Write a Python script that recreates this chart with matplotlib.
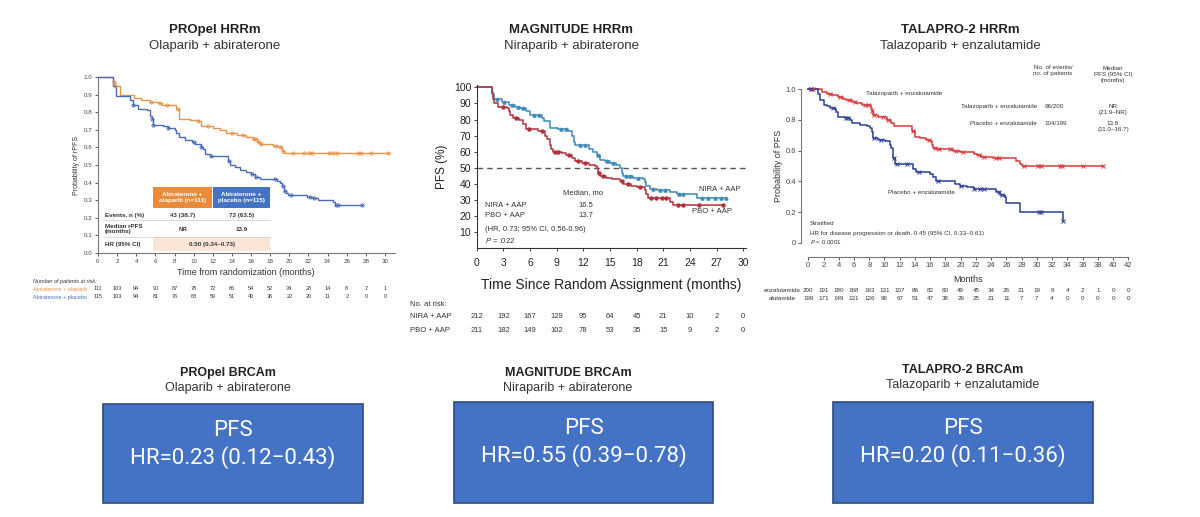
import numpy as np
import matplotlib
matplotlib.use('Agg')
import matplotlib.pyplot as plt
from matplotlib import transforms
from matplotlib.patches import Rectangle

plt.rcParams['font.family'] = ['Liberation Sans', 'DejaVu Sans']
plt.rcParams['mathtext.fontset'] = 'custom'
plt.rcParams['mathtext.it'] = 'Liberation Sans:italic'
plt.rcParams['mathtext.rm'] = 'Liberation Sans'

# ---------------- DATA ----------------
# PROpel HRRm (survival probability)
propel_ola_t = [0, 1.6, 1.75, 2.3, 3.8, 4.5, 5.4, 6.3, 6.7, 8.2, 8.5, 9.6, 10.5, 10.8, 12.0, 12.7,
                13.4, 14.5, 15.5, 16.2, 16.6, 16.9, 18.3, 19.0, 19.2, 19.4, 30.4]
propel_ola_s = [1.0, 0.97, 0.95, 0.90, 0.88, 0.87, 0.86, 0.85, 0.84, 0.82, 0.76, 0.755, 0.75, 0.72, 0.71, 0.70,
                0.68, 0.67, 0.66, 0.65, 0.63, 0.62, 0.61, 0.60, 0.58, 0.57, 0.57]
propel_ola_cens = [1.7, 1.8, 5.5, 6.5, 7.2, 8.4, 10.5, 11.5, 14.0, 15.2, 16.3, 16.5, 16.8, 17.0, 18.6,
                   19.0, 19.3, 20.4, 21.5, 22.1, 22.4, 24.1, 24.6, 25.0, 27.2, 27.5, 28.5, 30.3]
propel_pbo_t = [0, 1.6, 1.85, 3.3, 3.7, 4.2, 5.1, 5.4, 5.6, 5.75, 6.8, 7.3, 8.0, 8.2, 8.5, 9.1, 9.8, 10.1,
                10.8, 11.0, 11.2, 11.7, 13.6, 13.8, 14.3, 14.8, 15.5, 16.0, 16.4, 16.9, 18.7, 19.0, 19.2,
                19.4, 19.6, 19.9, 21.8, 22.5, 23.0, 24.6, 24.8, 27.6]
propel_pbo_s = [1.0, 0.95, 0.89, 0.87, 0.84, 0.82, 0.81, 0.78, 0.76, 0.73, 0.72, 0.71, 0.70, 0.68, 0.66, 0.64,
                0.63, 0.62, 0.60, 0.59, 0.56, 0.55, 0.52, 0.50, 0.49, 0.47, 0.46, 0.45, 0.43, 0.42, 0.41,
                0.40, 0.38, 0.35, 0.34, 0.33, 0.32, 0.31, 0.30, 0.29, 0.27, 0.27]
propel_pbo_cens = [3.7, 5.6, 5.8, 7.3, 10.0, 10.8, 11.8, 13.7, 16.1, 16.5, 18.5, 19.3, 19.5, 20.2, 22.2,
                   22.6, 24.9, 25.1, 27.6]
propel_risk_times = [0, 2, 4, 6, 8, 10, 12, 14, 16, 18, 20, 22, 24, 26, 28, 30]
propel_risk_ola = [111, 103, 94, 90, 87, 78, 72, 66, 54, 52, 34, 28, 14, 8, 2, 1]
propel_risk_pbo = [115, 103, 94, 81, 76, 68, 59, 51, 40, 36, 22, 20, 11, 2, 0, 0]
propel_arms = ['Abiraterone + olaparib', 'Abiraterone + placebo']

# MAGNITUDE HRRm (PFS %)
mag_nira_t = [0, 1.7, 1.75, 1.9, 2.8, 3.6, 4.3, 4.9, 5.6, 6.0, 7.3, 7.6, 8.25, 9.2, 10.3, 10.7, 10.9, 11.1,
              12.6, 13.1, 13.5, 13.9, 14.4, 15.0, 15.7, 16.1, 16.3, 16.5, 17.6, 18.75, 18.9, 19.1, 19.5,
              20.25, 21.75, 22.5, 24.75, 28.1]
mag_nira_s = [100, 98, 96, 93, 91, 89, 88, 87, 85, 83, 81, 79, 75, 74, 73, 70, 66, 64,
              62, 60, 58, 55, 54, 53, 52, 50, 47, 45, 44, 43, 41, 39, 37,
              36, 35, 34, 31, 31]
mag_nira_cens = [2.3, 3.1, 4.0, 4.6, 5.2, 6.4, 7.0, 9.5, 10.0, 11.6, 12.2, 13.6, 14.7, 15.3, 16.8, 17.2,
                 18.2, 19.8, 20.6, 21.2, 22.8, 23.2, 25.3, 26.0, 26.8, 27.5, 28.1]
mag_pbo_t = [0, 1.7, 1.8, 1.9, 2.4, 3.4, 3.6, 3.8, 4.1, 4.8, 5.25, 5.55, 6.9, 7.7, 7.9, 8.25, 8.4, 8.6,
             9.6, 10.1, 10.7, 11.1, 11.8, 12.6, 13.3, 13.5, 13.7, 13.9, 14.6, 15.2, 16.1, 16.5, 17.4,
             18.0, 18.9, 19.1, 19.3, 21.75, 22.1, 27.75]
mag_pbo_s = [100, 97, 93, 90, 88, 87, 85, 83, 81, 80, 77, 74, 73, 70, 68, 64, 62, 60,
             59, 58, 56, 54, 53, 52, 51, 50, 47, 45, 44, 43, 42, 40, 39,
             38, 36, 34, 31, 29, 27, 27]
mag_pbo_cens = [3.0, 4.4, 5.9, 7.3, 8.8, 9.2, 10.4, 11.4, 12.2, 13.8, 14.2, 16.3, 17.0, 18.4, 19.6,
                20.2, 20.8, 21.3, 22.6, 23.2, 25.0, 27.75]
mag_risk_times = [0, 3, 6, 9, 12, 15, 18, 21, 24, 27, 30]
mag_risk_nira = [212, 192, 167, 129, 95, 64, 45, 21, 10, 2, 0]
mag_risk_pbo = [211, 182, 149, 102, 78, 53, 35, 15, 9, 2, 0]
mag_arms = ['NIRA + AAP', 'PBO + AAP']

# TALAPRO-2 HRRm (survival probability)
tal_tal_t = [0, 1.75, 2.4, 3.1, 3.9, 4.6, 5.0, 5.7, 6.3, 7.0, 8.2, 8.3, 8.5, 9.2, 10.3, 10.9, 11.2, 13.6,
             14.0, 14.7, 15.5, 16.0, 16.2, 16.4, 16.8, 19.0, 19.9, 21.7, 22.1, 22.7, 24.3, 27.3, 27.8,
             28.0, 38.7]
tal_tal_s = [1.0, 0.98, 0.97, 0.96, 0.95, 0.94, 0.93, 0.92, 0.91, 0.90, 0.88, 0.86, 0.83, 0.82, 0.80, 0.78,
             0.76, 0.73, 0.69, 0.68, 0.67, 0.66, 0.64, 0.62, 0.61, 0.60, 0.59, 0.58, 0.57, 0.56, 0.55,
             0.53, 0.51, 0.50, 0.50]
tal_tal_cens = [0.3, 0.6, 2.8, 4.2, 5.4, 6.1, 7.4, 7.8, 8.4, 8.6, 9.8, 10.5, 13.8, 15.8, 16.6, 17.2,
                18.6, 19.4, 20.3, 22.4, 23.0, 24.6, 25.0, 28.3, 30.2, 30.6, 33.0, 33.3, 36.0, 38.7]
tal_pbo_t = [0, 1.3, 1.6, 2.0, 2.4, 2.8, 3.5, 3.7, 3.9, 4.8, 5.5, 5.7, 6.8, 7.7, 8.1, 8.3, 8.5, 9.2,
             10.1, 10.7, 10.9, 11.1, 11.4, 13.8, 14.2, 16.0, 16.4, 16.8, 19.2, 19.9, 20.8, 21.7, 24.7,
             25.2, 25.8, 26.0, 27.8, 33.2, 33.4]
tal_pbo_s = [1.0, 0.97, 0.93, 0.90, 0.89, 0.88, 0.87, 0.85, 0.82, 0.81, 0.80, 0.78, 0.77, 0.76, 0.75, 0.72,
             0.68, 0.67, 0.66, 0.64, 0.62, 0.55, 0.51, 0.48, 0.46, 0.45, 0.43, 0.40, 0.38, 0.37, 0.36,
             0.35, 0.33, 0.31, 0.30, 0.26, 0.20, 0.20, 0.14]
tal_pbo_cens = [0.4, 3.2, 4.9, 5.2, 8.6, 9.5, 11.2, 11.6, 13.0, 14.5, 17.0, 20.1, 21.8, 22.5, 23.0,
                25.0, 25.4, 30.3, 30.5, 33.4]
tal_risk_times = list(range(0, 43, 2))
tal_risk_tal = [200, 191, 180, 168, 163, 131, 107, 86, 82, 60, 49, 45, 34, 26, 21, 19, 9, 4, 2, 1, 0, 0]
tal_risk_pbo = [199, 171, 149, 131, 126, 96, 67, 51, 47, 38, 29, 25, 21, 11, 7, 7, 4, 0, 0, 0, 0, 0]
tal_arm_labels = ['enzalutamide', 'alutamide']

# BRCAm boxes
brca_titles = ['PROpel BRCAm', 'MAGNITUDE BRCAm', 'TALAPRO-2 BRCAm']
brca_subtitles = ['Olaparib + abiraterone', 'Niraparib + abiraterone', 'Talazoparib + enzalutamide']
brca_hr = ['HR=0.23 (0.12\u22120.43)', 'HR=0.55 (0.39\u22120.78)', 'HR=0.20 (0.11\u22120.36)']

# ---------------- FIGURE ----------------
W, H = 1200, 517
fig = plt.figure(figsize=(12, 5.17), dpi=100)
fig.patch.set_facecolor('white')


def fx(px):
    return px / W


def fy(py):
    return 1 - py / H


def px_axes(x0, y0, x1, y1):
    return fig.add_axes([x0 / W, 1 - y1 / H, (x1 - x0) / W, (y1 - y0) / H])


def surv_at(t, s, q):
    idx = np.searchsorted(np.asarray(t), np.asarray(q), side='right') - 1
    idx = np.clip(idx, 0, len(s) - 1)
    return np.asarray(s)[idx]


def style_axes(ax, fs, col='#444444'):
    for sp in ['top', 'right']:
        ax.spines[sp].set_visible(False)
    for sp in ['left', 'bottom']:
        ax.spines[sp].set_color('#777777')
        ax.spines[sp].set_linewidth(0.8)
    ax.tick_params(labelsize=fs, colors=col, length=2, width=0.6, pad=2)


# ---- Top titles ----
top_titles = [('PROpel HRRm', 'Olaparib + abiraterone', 215),
              ('MAGNITUDE HRRm', 'Niraparib + abiraterone', 571),
              ('TALAPRO-2 HRRm', 'Talazoparib + enzalutamide', 960)]
for t1, t2, cx in top_titles:
    fig.text(fx(cx), fy(30), t1, ha='center', va='center', fontsize=9.5, weight='bold', color='#222222')
    fig.text(fx(cx), fy(46), t2, ha='center', va='center', fontsize=9.5, color='#333333')

# ================= PROpel =================
c_or = '#E8954A'
c_bl = '#4A6DB5'
ax1 = px_axes(98, 77, 98 + 31 * 9.567, 253)
ax1.set_xlim(0, 31)
ax1.set_ylim(0, 1.0)
style_axes(ax1, 4.5)
ax1.set_xticks(propel_risk_times)
ax1.set_yticks(np.round(np.arange(0, 1.01, 0.1), 1))
ax1.set_yticklabels([f'{v:.1f}' for v in np.arange(0, 1.01, 0.1)])
ax1.step(propel_ola_t, propel_ola_s, where='post', color=c_or, lw=1.0, clip_on=False)
ax1.step(propel_pbo_t, propel_pbo_s, where='post', color=c_bl, lw=1.0, clip_on=False)
ax1.plot(propel_ola_cens, surv_at(propel_ola_t, propel_ola_s, propel_ola_cens), 'o', ms=2.2,
         mfc='none', mec=c_or, mew=0.7, clip_on=False)
ax1.plot(propel_pbo_cens, surv_at(propel_pbo_t, propel_pbo_s, propel_pbo_cens), 'o', ms=2.2,
         mfc='none', mec=c_bl, mew=0.7, clip_on=False)
ax1.set_ylabel('Probability of rPFS', fontsize=5, color='#333333', labelpad=3)
ax1.set_xlabel('Time from randomization (months)', fontsize=6.5, color='#333333', labelpad=3)

# inset table
ax1.add_patch(Rectangle((5.8, 0.255), 6.1, 0.122, fc='#E98B3A', ec='none'))
ax1.add_patch(Rectangle((12.0, 0.255), 6.0, 0.122, fc='#4472C4', ec='none'))
ax1.add_patch(Rectangle((5.8, 0.01), 12.2, 0.08, fc='#FBE5D6', ec='none'))
ax1.text(8.85, 0.316, 'Abiraterone +\nolaparib (n=111)', ha='center', va='center', fontsize=4.5,
         color='white', weight='bold', linespacing=1.1)
ax1.text(15.0, 0.316, 'Abiraterone +\nplacebo (n=115)', ha='center', va='center', fontsize=4.5,
         color='white', weight='bold', linespacing=1.1)
ax1.plot([0.5, 18], [0.19, 0.19], color='#cccccc', lw=0.5)
ax1.plot([0.5, 18], [0.09, 0.09], color='#cccccc', lw=0.5)
ax1.text(0.7, 0.215, 'Events, n (%)', fontsize=4.5, va='center', weight='bold', color='#333333')
ax1.text(8.85, 0.215, '43 (38.7)', fontsize=4.5, va='center', ha='center', weight='bold', color='#333333')
ax1.text(15.0, 0.215, '73 (63.5)', fontsize=4.5, va='center', ha='center', weight='bold', color='#333333')
ax1.text(0.7, 0.135, 'Median rPFS\n(months)', fontsize=4.5, va='center', weight='bold', color='#333333',
         linespacing=1.1)
ax1.text(8.85, 0.135, 'NR', fontsize=4.5, va='center', ha='center', weight='bold', color='#333333')
ax1.text(15.0, 0.135, '13.9', fontsize=4.5, va='center', ha='center', weight='bold', color='#333333')
ax1.text(0.7, 0.05, 'HR (95% CI)', fontsize=4.5, va='center', weight='bold', color='#333333')
ax1.text(11.9, 0.05, '0.50 (0.34\u20130.73)', fontsize=4.5, va='center', ha='center', weight='bold',
         color='#333333')

tr1 = transforms.blended_transform_factory(ax1.transData, fig.transFigure)
fig.text(fx(33), fy(281), 'Number of patients at risk:', fontsize=4, color='#333333', va='center',
         style='italic')
fig.text(fx(33), fy(289), propel_arms[0], fontsize=4, color=c_or, va='center')
fig.text(fx(33), fy(297), propel_arms[1], fontsize=4, color=c_bl, va='center')
for t, a, b in zip(propel_risk_times, propel_risk_ola, propel_risk_pbo):
    ax1.text(t, fy(289), str(a), transform=tr1, fontsize=4, ha='center', va='center', color='#333333')
    ax1.text(t, fy(297), str(b), transform=tr1, fontsize=4, ha='center', va='center', color='#333333')

# ================= MAGNITUDE =================
c_n = '#3C88B8'
c_p = '#B0323C'
ppm = 266.6 / 30
ppu = 145.0 / 90
ax2 = px_axes(476.7, 248.4 - 101.5 * ppu, 476.7 + 30.3 * ppm, 248.4)
ax2.set_xlim(0, 30.3)
ax2.set_ylim(0, 101.5)
style_axes(ax2, 7.5, '#222222')
ax2.spines['left'].set_color('#333333')
ax2.spines['bottom'].set_color('#333333')
ax2.set_xticks(mag_risk_times)
ax2.set_yticks(range(10, 101, 10))
ax2.tick_params(axis='x', pad=5)
ax2.axhline(50, color='#555555', lw=1.0, ls=(0, (4, 3)))
ax2.step(mag_nira_t, mag_nira_s, where='post', color=c_n, lw=1.1, clip_on=False)
ax2.step(mag_pbo_t, mag_pbo_s, where='post', color=c_p, lw=1.1, clip_on=False)
ax2.plot(mag_nira_cens, surv_at(mag_nira_t, mag_nira_s, mag_nira_cens), '^', ms=2.2, color=c_n,
         clip_on=False)
ax2.plot(mag_pbo_cens, surv_at(mag_pbo_t, mag_pbo_s, mag_pbo_cens), 'o', ms=2.2, color=c_p,
         clip_on=False)
ax2.set_ylabel('PFS (%)', fontsize=8.5, color='#222222', labelpad=4)
ax2.set_xlabel('Time Since Random Assignment (months)', fontsize=10, color='#222222', labelpad=7)
ax2.text(12.0, 34.5, 'Median, mo', fontsize=5.5, ha='center', va='center', color='#333333')
ax2.text(0.9, 26.5, 'NIRA + AAP', fontsize=5.5, va='center', color='#333333')
ax2.text(12.3, 26.5, '16.5', fontsize=5.5, va='center', ha='center', color='#333333')
ax2.text(0.9, 20.3, 'PBO + AAP', fontsize=5.5, va='center', color='#333333')
ax2.text(12.3, 20.3, '13.7', fontsize=5.5, va='center', ha='center', color='#333333')
ax2.text(0.9, 11.8, '(HR, 0.73; 95% CI, 0.56-0.96)', fontsize=5.5, va='center', color='#333333')
ax2.text(0.9, 4.8, '$\\mathit{P}$ = .022', fontsize=5.5, va='center', color='#333333')
ax2.text(25.0, 36.5, 'NIRA + AAP', fontsize=5.5, va='center', color='#333333')
ax2.text(24.2, 23.0, 'PBO + AAP', fontsize=5.5, va='center', color='#333333')

tr2 = transforms.blended_transform_factory(ax2.transData, fig.transFigure)
fig.text(fx(410), fy(305), 'No. at risk:', fontsize=5.5, color='#333333', va='center', ha='left')
fig.text(fx(410), fy(316), mag_arms[0], fontsize=5.5, color='#333333', va='center', ha='left')
fig.text(fx(410), fy(331), mag_arms[1], fontsize=5.5, color='#333333', va='center', ha='left')
for t, a, b in zip(mag_risk_times, mag_risk_nira, mag_risk_pbo):
    ax2.text(t, fy(316), str(a), transform=tr2, fontsize=5.5, ha='center', va='center', color='#333333')
    ax2.text(t, fy(331), str(b), transform=tr2, fontsize=5.5, ha='center', va='center', color='#333333')

# ================= TALAPRO-2 =================
c_r = '#D63A3A'
c_d = '#2B3F94'
ax3 = px_axes(808.3, 89.3, 1128.3, 242.7)
ax3.set_xlim(0, 42)
ax3.set_ylim(0, 1.0)
style_axes(ax3, 5.5)
ax3.spines['left'].set_position(('outward', 5))
ax3.spines['bottom'].set_position(('outward', 10))
ax3.set_xticks(tal_risk_times)
ax3.set_yticks([0, 0.2, 0.4, 0.6, 0.8, 1.0])
ax3.set_yticklabels(['0', '0.2', '0.4', '0.6', '0.8', '1.0'])
ax3.step(tal_tal_t, tal_tal_s, where='post', color=c_r, lw=1.1, clip_on=False)
ax3.step(tal_pbo_t, tal_pbo_s, where='post', color=c_d, lw=1.1, clip_on=False)
ax3.plot(tal_tal_cens, surv_at(tal_tal_t, tal_tal_s, tal_tal_cens), 'x', ms=2.5, mew=0.7, color=c_r,
         clip_on=False)
ax3.plot(tal_pbo_cens, surv_at(tal_pbo_t, tal_pbo_s, tal_pbo_cens), 'x', ms=2.5, mew=0.7, color=c_d,
         clip_on=False)
ax3.set_ylabel('Probability of PFS', fontsize=6.5, color='#333333', labelpad=2)
ax3.set_xlabel('Months', fontsize=6.5, color='#333333', labelpad=4)
ax3.text(7.6, 0.97, 'Talazoparib + enzalutamide', fontsize=4.5, va='center', color='#333333')
ax3.text(10.5, 0.33, 'Placebo + enzalutamide', fontsize=4.5, va='center', color='#333333')
ax3.text(0.2, 0.126, 'Stratified', fontsize=4.5, va='center', color='#333333')
ax3.text(0.2, 0.062, 'HR for disease progression or death, 0.45 (95% CI, 0.33\u20130.61)', fontsize=4.5,
         va='center', color='#333333')
ax3.text(0.2, 0.006, '$\\mathit{P}$ < 0.0001', fontsize=4.5, va='center', color='#333333')
ax3.text(32.1, 1.12, 'No. of events/\nno. of patients', fontsize=4.5, ha='center', va='center',
         color='#333333', linespacing=1.2)
ax3.text(40.0, 1.095, 'Median\nPFS (95% CI)\n(months)', fontsize=4.5, ha='center', va='center',
         color='#333333', linespacing=1.2)
ax3.text(30.0, 0.885, 'Talazoparib + enzalutamide', fontsize=4.5, ha='right', va='center', color='#333333')
ax3.text(31.0, 0.885, '66/200', fontsize=4.5, ha='left', va='center', color='#333333')
ax3.text(40.0, 0.87, 'NR\n(21.9\u2013NR)', fontsize=4.5, ha='center', va='center', color='#333333',
         linespacing=1.2)
ax3.text(30.0, 0.774, 'Placebo + enzalutamide', fontsize=4.5, ha='right', va='center', color='#333333')
ax3.text(31.0, 0.774, '104/199', fontsize=4.5, ha='left', va='center', color='#333333')
ax3.text(40.0, 0.755, '13.8\n(11.0\u201316.7)', fontsize=4.5, ha='center', va='center', color='#333333',
         linespacing=1.2)

tr3 = transforms.blended_transform_factory(ax3.transData, fig.transFigure)
fig.text(fx(801), fy(290), tal_arm_labels[0], fontsize=4.5, color='#333333', va='center', ha='right')
fig.text(fx(796), fy(298), tal_arm_labels[1], fontsize=4.5, color='#333333', va='center', ha='right')
for t, a, b in zip(tal_risk_times, tal_risk_tal, tal_risk_pbo):
    ax3.text(t, fy(290), str(a), transform=tr3, fontsize=4.5, ha='center', va='center', color='#333333')
    ax3.text(t, fy(298), str(b), transform=tr3, fontsize=4.5, ha='center', va='center', color='#333333')

# ================= BRCAm boxes =================
boxes = [(103, 404, 363, 503, 228, 373), (454, 402, 713, 503, 568, 373), (833, 402, 1093, 503, 963, 370)]
for (x0, y0, x1, y1, cx, ty), t1, t2, hr in zip(boxes, brca_titles, brca_subtitles, brca_hr):
    fig.text(fx(cx), fy(ty), t1, ha='center', va='center', fontsize=9, weight='bold', color='#222222')
    fig.text(fx(cx), fy(ty + 15), t2, ha='center', va='center', fontsize=9, color='#333333')
    fig.patches.append(Rectangle((fx(x0), fy(y1)), (x1 - x0) / W, (y1 - y0) / H, transform=fig.transFigure,
                                 fc='#4472C4', ec='#2F4B7C', lw=1.2))
    bx = (x0 + x1) / 2
    fig.text(fx(bx), fy(y0 + 27), 'PFS', ha='center', va='center', fontsize=16, color='white',
             family=['Roboto', 'DejaVu Sans'])
    fig.text(fx(bx), fy(y0 + 54), hr, ha='center', va='center', fontsize=16, color='white',
             family=['Roboto', 'DejaVu Sans'])

fig.savefig('out.png', dpi=100, facecolor='white')
